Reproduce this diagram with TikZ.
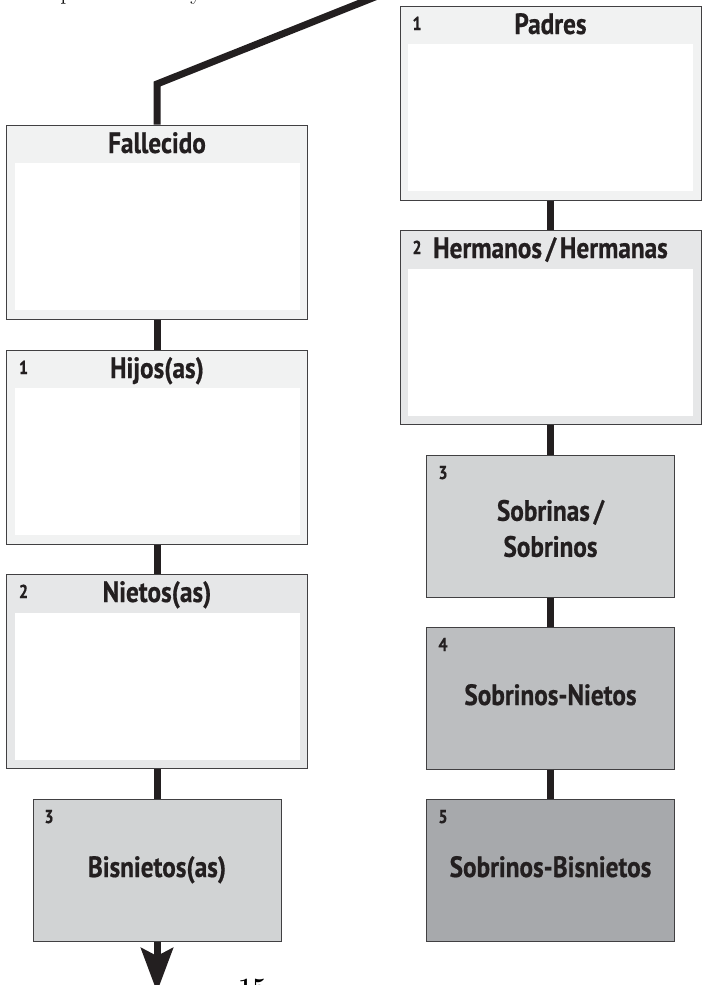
\documentclass[tikz,border=0pt]{standalone}
\usepackage{fontspec}
\newfontfamily\condsans{PT Sans}[FakeStretch=0.86, FakeBold=0.6, WordSpace=0.6]
\usetikzlibrary{arrows.meta}

\definecolor{headlight}{HTML}{F1F2F2}
\definecolor{headmid}{HTML}{E6E7E8}
\definecolor{grayone}{HTML}{D1D3D4}
\definecolor{graytwo}{HTML}{BCBEC0}
\definecolor{graythree}{HTML}{A7A9AC}
\definecolor{boxline}{HTML}{414042}
\definecolor{linkink}{HTML}{231F20}
\definecolor{titleink}{HTML}{231F20}

\tikzset{
  formbox/.style={draw=boxline, line width=0.75pt, fill=#1, inner sep=0pt,
    minimum width=225.75pt, minimum height=145.5pt,
    path picture={\fill[white] ([xshift=6pt,yshift=-28.5pt]path picture bounding box.north west) rectangle ([xshift=-6pt,yshift=6.75pt]path picture bounding box.south east);}},
  graybox/.style={draw=boxline, line width=0.75pt, fill=#1, inner sep=0pt,
    minimum width=186pt, minimum height=106.5pt},
  boxtitle/.style={font=\condsans\bfseries\fontsize{22}{27}\selectfont, text=titleink, inner sep=0pt},
  boxnum/.style={font=\condsans\bfseries\fontsize{14}{15}\selectfont, text=titleink, anchor=base, inner sep=0pt},
  link/.style={draw=linkink, line width=5.25pt, line join=miter},
}

\begin{document}
\begin{tikzpicture}[x=0.75pt,y=0.75pt,yscale=-1,xscale=1]
\useasboundingbox (0,0) rectangle (702,985);
\clip (0,0) rectangle (702,985);

% Text Node
\draw (60,0) node [anchor=base west, inner sep=0pt, font=\fontsize{18}{20}\selectfont] (textp) {p};
% Text Node
\draw (190,0) node [anchor=base west, inner sep=0pt, font=\fontsize{18}{20}\selectfont] (texty) {y};

% Left column
\node [formbox=headlight] (fall) at (157,222) {};
\node [formbox=headlight] (hijos) at (157,447) {};
\node [formbox=headmid] (nietos) at (157,671.5) {};
\node [graybox=grayone] (bis) at (157,870) {};

% Right column
\node [formbox=headlight] (padres) at (550.5,103) {};
\node [formbox=headmid] (herm) at (550.5,327.5) {};
\node [graybox=grayone] (sobr) at (550.5,526) {};
\node [graybox=graytwo] (snietos) at (550.5,698) {};
\node [graybox=graythree] (sbis) at (550.5,870) {};

% Text Node
\draw (157,153) node [boxtitle, anchor=base] (tfall) {Fallecido};
\draw (157,378) node [boxtitle, anchor=base] (thijos) {Hijos(as)};
\draw (157,602) node [boxtitle, anchor=base] (tnietos) {Nietos(as)};
\draw (157,877) node [boxtitle, anchor=base] (tbis) {Bisnietos(as)};
\draw (550.5,34) node [boxtitle, anchor=base] (tpadres) {Padres};
\draw (550.5,258) node [boxtitle, anchor=base] (therm) {Hermanos / Hermanas};
\draw (550.5,528.5) node [boxtitle, align=center] (tsobr) {Sobrinas /\\Sobrinos};
\draw (550.5,705) node [boxtitle, anchor=base] (tsnietos) {Sobrinos-Nietos};
\draw (550.5,877) node [boxtitle, anchor=base] (tsbis) {Sobrinos-Bisnietos};

% Text Node
\draw (23.5,374) node [boxnum] (nhijos) {1};
\draw (23.5,598) node [boxnum] (nnietos) {2};
\draw (49,823) node [boxnum] (nbis) {3};
\draw (417,30) node [boxnum] (npadres) {1};
\draw (417,254) node [boxnum] (nherm) {2};
\draw (443,479) node [boxnum] (nsobr) {3};
\draw (443,651) node [boxnum] (nsnietos) {4};
\draw (443,823) node [boxnum] (nsbis) {5};

% Text Node
\draw (238,995) node [anchor=base west, inner sep=0pt, font=\bfseries\fontsize{18.75}{22}\selectfont] (pagenum) {15};

% Connection
\coordinate (bend) at (157,84);
\coordinate (topend) at (380,-5);
\draw [link] (fall.north) -- (bend) -- (topend);
% Connection
\draw [link] (fall.south) -- (hijos.north);
\draw [link] (hijos.south) -- (nietos.north);
\draw [link] (nietos.south) -- (bis.north);
% Connection
\coordinate (arrowtip) at (157,992);
\draw [link, -{Stealth[length=33pt, width=24pt, inset=6pt]}] (bis.south) -- (arrowtip);
% Connection
\draw [link] (padres.south) -- (herm.north);
\draw [link] (herm.south) -- (sobr.north);
\draw [link] (sobr.south) -- (snietos.north);
\draw [link] (snietos.south) -- (sbis.north);

\end{tikzpicture}
\end{document}
